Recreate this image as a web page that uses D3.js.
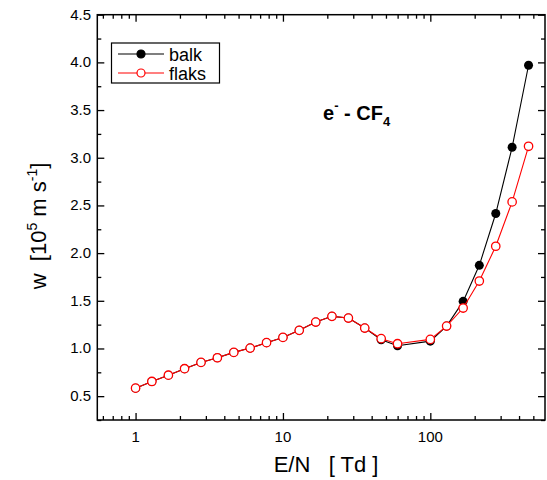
<!DOCTYPE html>
<html>
<head>
<meta charset="utf-8">
<script src="https://cdn.jsdelivr.net/npm/d3@7/dist/d3.min.js"></script>
<style>
  html, body { margin: 0; padding: 0; background: #fff; }
  svg { display: block; font-family: "Liberation Sans", Arial, sans-serif; }
</style>
</head>
<body>
<svg id="chart" width="547" height="480"></svg>
<script>
// Reduced field E/N (Td)
const fieldEN = [1, 1.29, 1.67, 2.15, 2.78, 3.59, 4.64, 5.99, 7.74, 10,
                 12.9, 16.7, 21.5, 27.8, 35.9, 46.4, 59.9, 100, 129, 167,
                 215, 278, 359, 464];
// Drift velocity, bulk (balk) and flux (flaks), in 1e5 m/s
const balk  = [0.584, 0.654, 0.72, 0.788, 0.854, 0.903, 0.959, 1.004, 1.061, 1.116,
               1.19, 1.277, 1.337, 1.319, 1.214, 1.092, 1.029, 1.077, 1.235, 1.494,
               1.872, 2.415, 3.11, 3.97];
const flaks = [0.584, 0.654, 0.72, 0.788, 0.854, 0.903, 0.959, 1.004, 1.061, 1.116,
               1.19, 1.277, 1.337, 1.319, 1.214, 1.103, 1.05, 1.095, 1.235, 1.424,
               1.707, 2.072, 2.537, 3.12];
const xMajorTicks = [1, 10, 100];
const xTickLabels = ["1", "10", "100"];
const xMinorTicks = [0.6, 0.7, 0.8, 0.9, 2, 3, 4, 5, 6, 7, 8, 9,
                     20, 30, 40, 50, 60, 70, 80, 90, 200, 300, 400, 500];
const yMajorTicks = [0.5, 1.0, 1.5, 2.0, 2.5, 3.0, 3.5, 4.0, 4.5];
const yMinorTicks = [0.25, 0.75, 1.25, 1.75, 2.25, 2.75, 3.25, 3.75, 4.25];
const seriesNames = ["balk", "flaks"];

const svg = d3.select("#chart");
const plotL = 97.3, plotR = 545, plotT = 14.7, plotB = 420;

const x = d3.scaleLog().domain([0.55, 600]).range([plotL, plotR]);
const y = d3.scaleLinear().domain([0.25, 4.5]).range([plotB, plotT]);

const red = "#ff0000";
const majorLen = 7, minorLen = 4;

// axes with inward ticks on all four sides
const gAx = svg.append("g");
function tickAxis(axisFn, scale, vals, len, transform) {
  gAx.append("g")
    .attr("transform", transform)
    .call(axisFn(scale).tickValues(vals).tickSizeInner(len).tickSizeOuter(0).tickFormat(""))
    .call(g => g.select(".domain").remove())
    .call(g => g.selectAll("line").attr("stroke", "#000").attr("stroke-width", 1.3));
}
tickAxis(d3.axisTop, x, xMajorTicks, majorLen, `translate(0,${plotB})`);
tickAxis(d3.axisTop, x, xMinorTicks, minorLen, `translate(0,${plotB})`);
tickAxis(d3.axisBottom, x, xMajorTicks, majorLen, `translate(0,${plotT})`);
tickAxis(d3.axisBottom, x, xMinorTicks, minorLen, `translate(0,${plotT})`);
tickAxis(d3.axisRight, y, yMajorTicks, majorLen, `translate(${plotL},0)`);
tickAxis(d3.axisRight, y, yMinorTicks, minorLen, `translate(${plotL},0)`);
tickAxis(d3.axisLeft, y, yMajorTicks, majorLen, `translate(${plotR},0)`);
tickAxis(d3.axisLeft, y, yMinorTicks, minorLen, `translate(${plotR},0)`);

// tick labels
svg.append("g").selectAll("text").data(xMajorTicks).join("text")
  .attr("x", d => x(d)).attr("y", 442)
  .attr("text-anchor", "middle").attr("font-size", 15)
  .text((d, i) => xTickLabels[i]);
svg.append("g").selectAll("text").data(yMajorTicks).join("text")
  .attr("x", 91).attr("y", d => y(d) + 5)
  .attr("text-anchor", "end").attr("font-size", 15)
  .text(d => d.toFixed(1));

// frame
svg.append("rect").attr("x", plotL).attr("y", plotT)
  .attr("width", plotR - plotL).attr("height", plotB - plotT)
  .attr("fill", "none").attr("stroke", "#000").attr("stroke-width", 1.5);

// axis titles
svg.append("text").attr("x", 326).attr("y", 472)
  .attr("text-anchor", "middle").attr("font-size", 22)
  .attr("xml:space", "preserve")
  .text("E/N   [ Td ]");
const yl = svg.append("text")
  .attr("transform", "translate(46,226) rotate(-90)")
  .attr("text-anchor", "middle").attr("font-size", 22)
  .attr("xml:space", "preserve");
yl.append("tspan").text("w  [10");
yl.append("tspan").attr("font-size", 14).attr("dy", -9).text("5");
yl.append("tspan").attr("dy", 9).text(" m s");
yl.append("tspan").attr("font-size", 14).attr("dy", -9).text("-1");
yl.append("tspan").attr("dy", 9).text("]");

// series lines and markers
const pts = arr => fieldEN.map((e, i) => [e, arr[i]]);
const line = d3.line().x(d => x(d[0])).y(d => y(d[1]));

svg.append("path").datum(pts(balk)).attr("d", line)
  .attr("fill", "none").attr("stroke", "#000").attr("stroke-width", 1.1);
svg.append("g").selectAll("circle").data(pts(balk)).join("circle")
  .attr("cx", d => x(d[0])).attr("cy", d => y(d[1])).attr("r", 4.5)
  .attr("fill", "#000");

svg.append("path").datum(pts(flaks)).attr("d", line)
  .attr("fill", "none").attr("stroke", red).attr("stroke-width", 1.1);
svg.append("g").selectAll("circle").data(pts(flaks)).join("circle")
  .attr("cx", d => x(d[0])).attr("cy", d => y(d[1])).attr("r", 4.2)
  .attr("fill", "#fff").attr("stroke", red).attr("stroke-width", 1.3);

// legend
const lg = svg.append("g");
lg.append("rect").attr("x", 111.5).attr("y", 43).attr("width", 108).attr("height", 40)
  .attr("fill", "#fff").attr("stroke", "#000").attr("stroke-width", 1.2);
const rows = [{ name: seriesNames[0], color: "#000", fill: "#000", yy: 54 },
              { name: seriesNames[1], color: red, fill: "#fff", yy: 73 }];
rows.forEach(r => {
  lg.append("line").attr("x1", 118).attr("x2", 164).attr("y1", r.yy).attr("y2", r.yy)
    .attr("stroke", r.color).attr("stroke-width", 1.1);
  lg.append("circle").attr("cx", 141).attr("cy", r.yy).attr("r", 4)
    .attr("fill", r.fill).attr("stroke", r.color).attr("stroke-width", 1.2);
  lg.append("text").attr("x", 169).attr("y", r.yy + 6.5).attr("font-size", 18).text(r.name);
});

// annotation
const t = svg.append("text").attr("x", 323).attr("y", 120)
  .attr("font-size", 20).attr("font-weight", "bold").attr("xml:space", "preserve");
t.append("tspan").text("e");
t.append("tspan").attr("font-size", 13).attr("dy", -10).text("-");
t.append("tspan").attr("dy", 10).text(" - CF");
t.append("tspan").attr("font-size", 13).attr("dy", 6).text("4");
</script>
</body>
</html>
